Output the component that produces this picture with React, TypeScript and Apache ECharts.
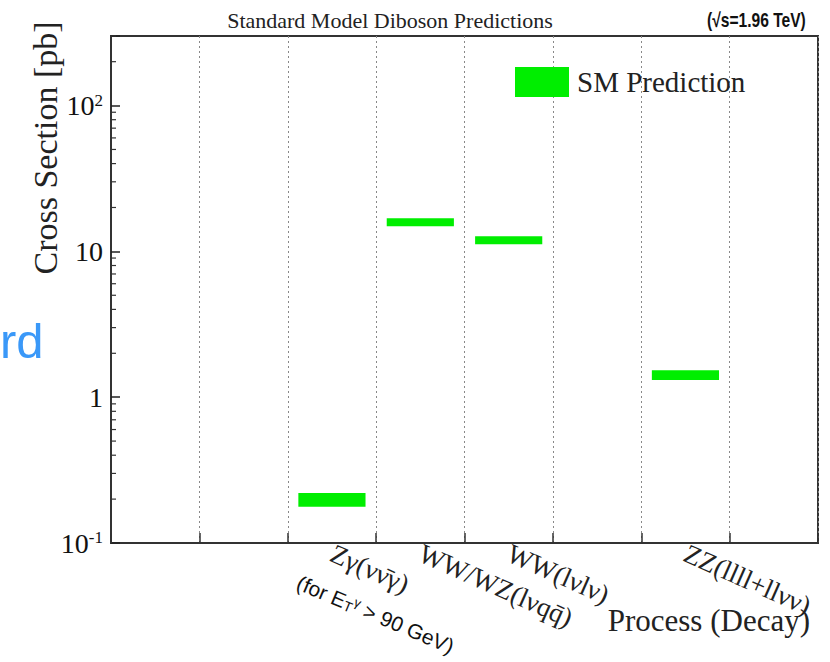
import React, { useEffect, useRef } from "react";
import * as echarts from "echarts";

// ---- data ----
const categories = ["", "", "Zγ(νν̄γ)", "WW/WZ(lνqq̄)", "WW(lνlν)", "", "ZZ(llll+llνν)", ""];
const predCategoryIndex = [2, 3, 4, 6];
const predLow = [0.177, 14.9, 11.2, 1.31];
const predHigh = [0.22, 16.9, 12.7, 1.53];
const yMajorTicks = [0.1, 1, 10, 100];
const yMajorLabels = ["10{sup|-1}", "1", "10", "10{sup|2}"];
const yMinorTicks = [
  0.2, 0.3, 0.4, 0.5, 0.6, 0.7, 0.8, 0.9,
  2, 3, 4, 5, 6, 7, 8, 9,
  20, 30, 40, 50, 60, 70, 80, 90,
  200, 300,
];
const yMin = 0.1;
const yMax = 300;

const SERIF = "'Liberation Serif', 'DejaVu Serif', serif";
const SANS = "'Liberation Sans', Arial, sans-serif";

export default function App() {
  const ref = useRef<HTMLDivElement>(null);

  useEffect(() => {
    if (!ref.current) return;
    const chart = echarts.init(ref.current, null, { renderer: "svg" });

    const labelFor = (v: number) => {
      for (let i = 0; i < yMajorTicks.length; i++) {
        if (Math.abs(Math.log10(v) - Math.log10(yMajorTicks[i])) < 1e-6) return yMajorLabels[i];
      }
      return "";
    };

    const option: any = {
      animation: false,
      backgroundColor: "#ffffff",
      grid: {
        left: 111,
        right: 12,
        top: 36,
        bottom: 119,
        show: true,
        borderColor: "#333",
        borderWidth: 2,
        backgroundColor: "transparent",
      },
      legend: {
        data: [{ name: "SM Prediction", icon: "rect" }],
        left: 515,
        top: 67,
        padding: 0,
        itemWidth: 54,
        itemHeight: 30,
        selectedMode: false,
        textStyle: {
          fontFamily: SERIF,
          fontSize: 29,
          color: "#222",
          padding: [0, 0, 0, 3],
        },
      },
      xAxis: {
        type: "category",
        data: categories,
        boundaryGap: true,
        axisLine: { show: true, lineStyle: { color: "#333", width: 2 } },
        axisTick: { show: true, inside: true, length: 10, interval: 0, lineStyle: { color: "#333", width: 1.5 } },
        splitLine: { show: true, interval: 0, lineStyle: { color: "#888", type: [2, 3], width: 1 } },
        axisLabel: {
          interval: 0,
          rotate: -24,
          margin: 9,
          fontFamily: SERIF,
          fontSize: 27,
          color: "#222",
        },
      },
      yAxis: {
        type: "log",
        logBase: 10,
        min: yMin,
        max: yMax,
        axisLine: { show: true, lineStyle: { color: "#333", width: 2 } },
        axisTick: { show: true, inside: true, length: 9, lineStyle: { color: "#222", width: 1.5 } },
        splitLine: { show: false },
        axisLabel: {
          formatter: (v: number) => labelFor(v),
          margin: 8,
          fontFamily: SERIF,
          fontSize: 28,
          color: "#111",
          rich: {
            sup: { fontFamily: SERIF, fontSize: 17, color: "#111", verticalAlign: "top", lineHeight: 16 },
          },
        },
      },
      series: [
        {
          name: "SM Prediction",
          type: "custom",
          itemStyle: { color: "#00ee00" },
          encode: { x: 0, y: [1, 2] },
          data: predCategoryIndex.map((c, i) => [c, predLow[i], predHigh[i]]),
          renderItem: (params: any, api: any) => {
            const x = api.value(0);
            const lo = api.value(1);
            const hi = api.value(2);
            const pTop = api.coord([x, hi]);
            const pBot = api.coord([x, lo]);
            const w = api.size([1, 0])[0] * 0.76;
            return {
              type: "rect",
              shape: { x: pTop[0] - w / 2, y: pTop[1], width: w, height: pBot[1] - pTop[1] },
              style: { fill: "#00ee00" },
            };
          },
        },
        {
          name: "minorTicks",
          type: "custom",
          silent: true,
          z: 5,
          encode: { x: 0, y: 1 },
          data: yMinorTicks.map((v) => [0, v]),
          renderItem: (params: any, api: any) => {
            const p = api.coord([0, api.value(1)]);
            const x0 = params.coordSys.x;
            return {
              type: "rect",
              shape: { x: x0, y: p[1] - 0.6, width: 5, height: 1.2 },
              style: { fill: "#333" },
            };
          },
        },
      ],
      graphic: [
        {
          type: "text",
          x: 390,
          y: 20,
          style: {
            text: "Standard Model Diboson Predictions",
            fontFamily: SERIF,
            fontSize: 22,
            fill: "#222",
            align: "center",
            verticalAlign: "middle",
          },
        },
        {
          type: "text",
          x: 707,
          y: 20,
          scaleX: 0.78,
          style: {
            text: "(√s=1.96 TeV)",
            fontFamily: SANS,
            fontWeight: "bold",
            fontSize: 20,
            fill: "#111",
            align: "left",
            verticalAlign: "middle",
          },
        },
        {
          type: "text",
          x: 45,
          y: 148,
          rotation: Math.PI / 2,
          style: {
            text: "Cross Section [pb]",
            fontFamily: SERIF,
            fontSize: 34,
            fill: "#222",
            align: "center",
            verticalAlign: "middle",
          },
        },
        {
          type: "text",
          x: 810,
          y: 620,
          style: {
            text: "Process (Decay)",
            fontFamily: SERIF,
            fontSize: 31,
            fill: "#222",
            align: "right",
            verticalAlign: "middle",
          },
        },
        {
          type: "text",
          x: 302,
          y: 572,
          rotation: -0.4,
          style: {
            text: "(for E{sub|T}{sup|γ} > 90 GeV)",
            fontFamily: SANS,
            fontSize: 21,
            fill: "#111",
            align: "left",
            verticalAlign: "top",
            rich: {
              sub: { fontFamily: SANS, fontSize: 14, fill: "#111", verticalAlign: "bottom", lineHeight: 14 },
              sup: { fontFamily: SANS, fontSize: 13, fill: "#111", verticalAlign: "top", lineHeight: 12 },
            },
          },
        },
        {
          type: "text",
          x: 0,
          y: 341,
          style: {
            text: "rd",
            fontFamily: SANS,
            fontSize: 49,
            fill: "#3a98f8",
            align: "left",
            verticalAlign: "middle",
          },
        },
      ],
    };

    chart.setOption(option);
    return () => chart.dispose();
  }, []);

  return <div ref={ref} style={{ position: "absolute", left: 0, top: 0, width: 830, height: 662 }} />;
}
